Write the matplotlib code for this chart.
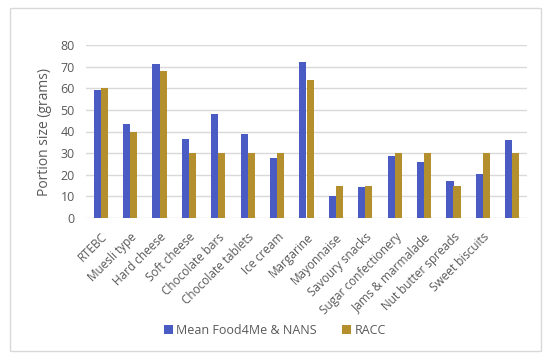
import matplotlib
matplotlib.use("Agg")
import matplotlib.pyplot as plt
from matplotlib.patches import Rectangle
import numpy as np

categories = ["RTEBC", "Muesli type", "Hard cheese", "Soft cheese", "Chocolate bars",
              "Chocolate tablets", "Ice cream", "Margarine", "Mayonnaise", "Savoury snacks",
              "Sugar confectionery", "Jams & marmalade", "Nut butter spreads", "Sweet biscuits", ""]
mean_food4me = [59, 43.5, 71, 36.5, 48, 38.7, 27.8, 72, 10, 14.5, 28.8, 26, 17, 20.5, 36.3]
racc = [60, 40, 68, 30, 30, 30, 30, 64, 15, 15, 30, 30, 15, 30, 30]
yticks = [0, 10, 20, 30, 40, 50, 60, 70, 80]

plt.rcParams['font.family'] = ['Open Sans', 'DejaVu Sans']
text_color = '#595959'

fig = plt.figure(figsize=(5.5, 3.57), dpi=100)
fig.patches.append(Rectangle((10/550, 1-351/357), 531/550, 343/357, transform=fig.transFigure,
                             fill=False, edgecolor='#D9D9D9', linewidth=1.0))
ax = fig.add_axes([86/550, 1-218/357, 441/550, 173/357])

x = np.arange(len(categories))
w = 0.24
ax.bar(x - w/2, mean_food4me, width=w, color='#4B5BC4', label='Mean Food4Me & NANS', zorder=3)
ax.bar(x + w/2, racc, width=w, color='#B38F2E', label='RACC', zorder=3)

ax.set_xlim(-0.5, len(categories) - 0.5)
ax.set_ylim(0, 80)
ax.set_yticks(yticks)
ax.set_yticklabels([str(t) for t in yticks], fontsize=9, color=text_color)
ax.yaxis.grid(True, color='#D9D9D9', linewidth=1.0, zorder=0)
ax.set_axisbelow(True)
for s in ax.spines.values():
    s.set_visible(False)
ax.tick_params(axis='both', length=0)
ax.tick_params(axis='y', pad=8)
ax.set_xticks(x)
ax.set_xticklabels(categories, rotation=45, ha='right', va='top', rotation_mode='anchor',
                   fontsize=8.5, color=text_color)
ax.tick_params(axis='x', pad=9)
ax.set_ylabel('Portion size (grams)', fontsize=10, color=text_color, labelpad=6)

fig.legend(loc='center', bbox_to_anchor=(0.5, 1-330/357), ncol=2, frameon=False,
           fontsize=9, labelcolor=text_color, handlelength=0.7, handleheight=0.7,
           handletextpad=0.3, columnspacing=2.0)

fig.savefig('out.png', dpi=100)
